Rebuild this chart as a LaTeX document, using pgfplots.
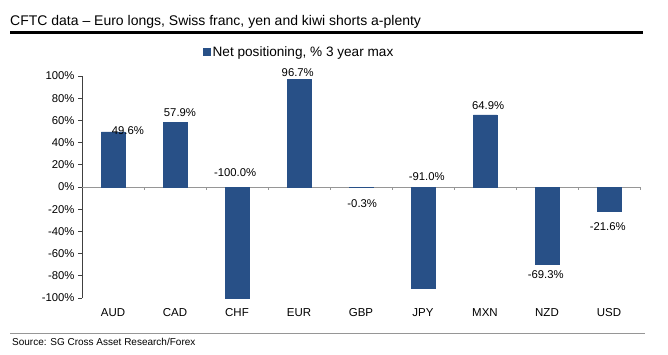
\documentclass[border=0pt]{standalone}
\usepackage{pgfplots}
\pgfplotsset{compat=1.18}
\usepackage{fontspec}
\setmainfont{Liberation Sans}
\definecolor{barblue}{RGB}{40,80,135}
\definecolor{axgray}{RGB}{150,150,150}
\begin{document}
\begin{tikzpicture}[x=1pt,y=1pt]
\path[use as bounding box] (0,0) rectangle (668,354);
\node[anchor=base west, inner sep=0pt, font=\fontsize{14}{16}\selectfont] at (10,328) {CFTC data – Euro longs, Swiss franc, yen and kiwi shorts a-plenty};
\draw[line width=3pt] (10,321) -- (643,321);
\draw[axgray, line width=0.8pt] (10,21) -- (645,21);
\node[anchor=west, inner sep=0pt, font=\fontsize{10}{11}\selectfont] at (12,12) {Source: SG Cross Asset Research/Forex};
\begin{axis}[
  at={(82pt,56pt)}, anchor=south west,
  scale only axis, width=558pt, height=222pt,
  xmin=-0.5, xmax=8.5, ymin=-100, ymax=100,
  clip=false,
  axis x line*=bottom, axis y line*=left,
  x axis line style={draw=none},
  y axis line style={draw=black!75, line width=0.8pt},
  xtick={0,...,8},
  xticklabels={AUD,CAD,CHF,EUR,GBP,JPY,MXN,NZD,USD},
  xtick style={draw=none},
  xticklabel style={font=\fontsize{11.5}{13}\selectfont, yshift=-3pt},
  ytick={-100,-80,...,100},
  yticklabels={-100\%,-80\%,-60\%,-40\%,-20\%,0\%,20\%,40\%,60\%,80\%,100\%},
  yticklabel style={font=\fontsize{11.3}{13}\selectfont},
  ytick style={draw=black!75, line width=0.8pt},
  tick align=outside, major tick length=4pt,
  ybar, bar width=23.5pt, bar shift=0pt,
  legend style={draw=none, fill=none, at={(0.215,1.108)}, anchor=west,
    font=\fontsize{13.6}{15}\selectfont, inner sep=1pt},
  legend image code/.code={\fill[barblue] (0pt,-3.5pt) rectangle (7pt,3.5pt);},
]
\draw[axgray, line width=0.8pt] (axis cs:-0.5,0) -- (axis cs:8.5,0);
\pgfplotsinvokeforeach{0.5,1.5,2.5,3.5,4.5,5.5,6.5,7.5,8.5}{\draw[axgray, line width=0.6pt] (axis cs:#1,0) -- ++(0pt,-3pt);}
\addplot[fill=barblue, draw=barblue, line width=0.5pt] coordinates {
  (0,49.6) (1,57.9) (2,-100.0) (3,96.7) (4,-0.3) (5,-91.0) (6,64.9) (7,-69.3) (8,-21.6)
};
\addlegendentry{Net positioning, \% 3 year max}
\begin{scope}[every node/.style={font=\fontsize{11.3}{13}\selectfont, inner sep=0pt}]
\node at (axis cs:0.24,50.5) {49.6\%};
\node at (axis cs:1.08,66.7) {57.9\%};
\node at (axis cs:1.97,12.6) {-100.0\%};
\node at (axis cs:2.98,102.7) {96.7\%};
\node at (axis cs:4.02,-15.3) {-0.3\%};
\node at (axis cs:5.06,9) {-91.0\%};
\node at (axis cs:6.05,73) {64.9\%};
\node at (axis cs:6.98,-79.3) {-69.3\%};
\node at (axis cs:7.98,-36) {-21.6\%};
\end{scope}
\end{axis}
\end{tikzpicture}
\end{document}
